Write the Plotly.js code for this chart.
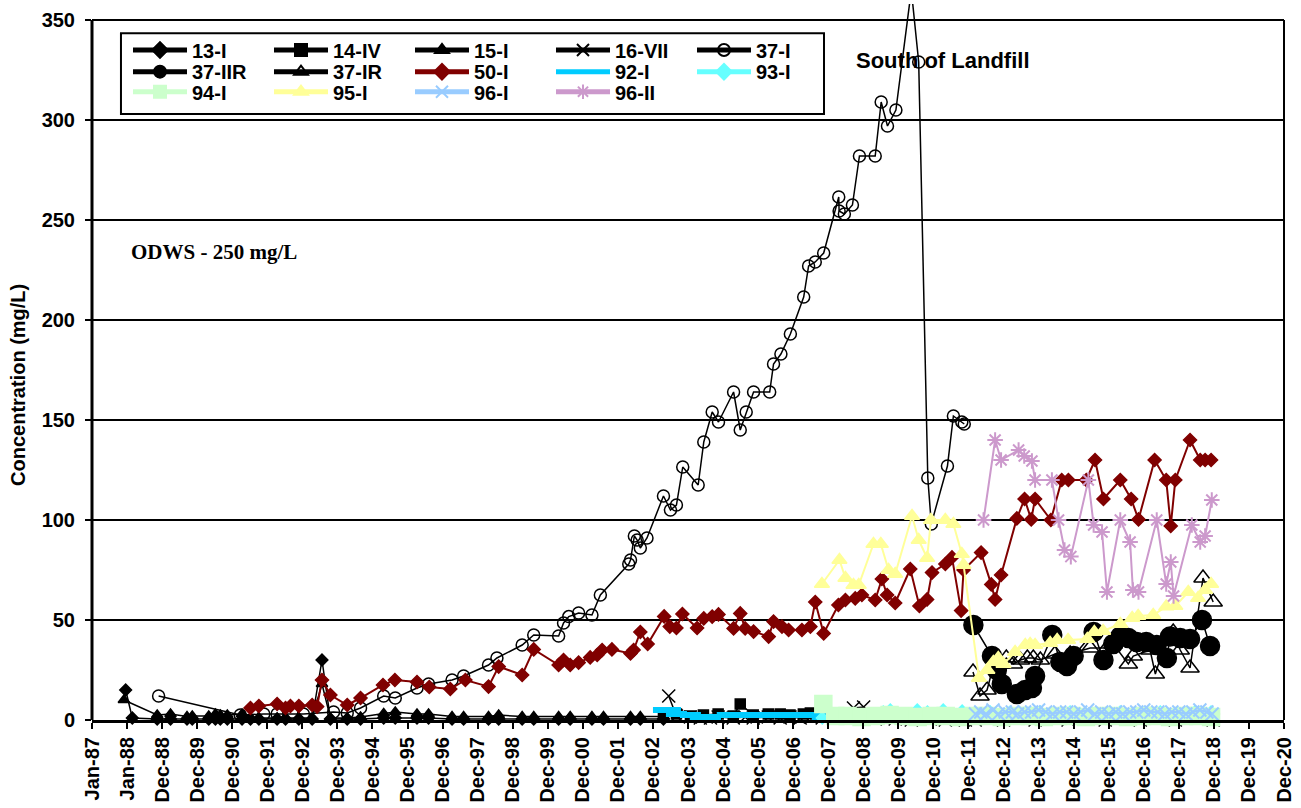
<!DOCTYPE html>
<html>
<head>
<meta charset="utf-8">
<script src="https://cdn.plot.ly/plotly-3.0.1.min.js"></script>
<style>html,body{margin:0;padding:0;background:#fff;}#chart{width:1301px;height:808px;}</style>
</head>
<body>
<div id="chart"></div>
<script>
// ---- x tick labels (Excel date axis, one tick every 365 days from Jan-87) ----
const xTickText = ['Jan-87','Jan-88','Dec-88','Dec-89','Dec-90','Dec-91','Dec-92','Dec-93','Dec-94','Dec-95',
  'Dec-96','Dec-97','Dec-98','Dec-99','Dec-00','Dec-01','Dec-02','Dec-03','Dec-04','Dec-05','Dec-06',
  'Dec-07','Dec-08','Dec-09','Dec-10','Dec-11','Dec-12','Dec-13','Dec-14','Dec-15','Dec-16','Dec-17',
  'Dec-18','Dec-19','Dec-20'];
const yTickVals = [0,50,100,150,200,250,300,350];

// ---- series (x = decimal year, y = concentration mg/L) ----
const s13I_x = [1987.96,1988.15,1988.86,1989.24,1989.71,1989.86,1990.33,1990.52,1990.66,1990.86,1991.28,1991.52,1991.76,1992.28,1992.52,1992.90,1993.28,1993.56,1993.80,1994.28,1994.66,1995.32,1995.65,1996.27,1996.60,1997.27,1997.60,1998.31,1998.60,1999.27,1999.60,2000.31,2000.64,2001.26,2001.59,2002.36,2002.64,2003.30];
const s13I_y = [15,1,0.5,0.5,0.5,0.5,0.5,0.5,0.5,0.5,0.5,0.5,0.5,0.5,0.5,0.5,0.5,30,0.5,0.5,0.5,1,1,1,1,0.5,0.5,0.5,0.5,0.5,0.5,0.5,0.5,0.5,0.5,0.5,0.5,0.5];

const s14IV_x = [2003.30,2003.67,2004.07,2004.44,2004.86,2005.29,2005.49,2005.86,2006.29,2006.63,2006.91,2007.29,2007.49,2007.63];
const s14IV_y = [2,3,2,2.5,3,2,8,2.5,3,3,2.5,3,3.5,3];

const s15I_x = [1987.91,1988.86,1989.24,1989.71,1989.86,1990.33,1990.52,1990.66,1990.86,1991.28,1991.52,1991.76,1992.28,1992.52,1992.90,1993.28,1993.56,1993.80,1994.28,1994.66,1995.32,1995.65,1996.27,1996.60,1997.27,1997.60,1998.31,1998.60,1999.27,1999.60,2000.31,2000.64,2001.26,2001.59,2002.36,2002.64,2003.30];
const s15I_y = [10,2.5,3,1.7,2,2,3,2.5,2.5,3,1,1,1,1,1,1,18,1,1,1.5,3.3,4,3,3,1.7,1.7,1.7,2.5,1.7,1.7,1.7,1.7,1.7,1.7,1.7,1.7,1.7];

const s16VII_x = [2003.45,2003.67,2004.07,2004.35,2004.64,2004.86,2005.29,2005.63,2005.86,2006.29,2006.63,2006.91,2007.20,2007.49,2007.83,2008.29,2008.72,2009.01,2009.34,2009.91,2010.37,2010.91,2011.34,2011.91,2012.19,2013.00,2013.90,2014.84,2015.90,2016.90,2017.90,2018.98];
const s16VII_y = [12,2,1.5,1,1,1.5,1,1.5,1,1.5,1,1.5,1,1.5,1,1,6,6.5,0.5,0.5,0,0.5,0,0,0,0,0,0,0,0,0,0];

const s37I_x = [1988.90,1991.23,1991.90,1992.28,1993.03,1993.89,1994.28,1994.66,1995.32,1995.65,1996.27,1996.60,1997.27,1997.60,1998.31,1998.55,1999.27,1999.60,2000.31,2000.45,2000.60,2000.88,2001.26,2001.50,2002.31,2002.36,2002.47,2002.55,2002.64,2002.83,2003.30,2003.50,2003.67,2003.85,2004.29,2004.45,2004.69,2004.87,2005.30,2005.49,2005.66,2005.87,2006.33,2006.44,2006.65,2006.92,2007.30,2007.44,2007.63,2007.87,2008.30,2008.31,2008.46,2008.69,2008.89,2009.34,2009.51,2009.69,2009.93,2010.37,2010.58,2010.84,2010.94,2011.40,2011.57,2011.81,2011.88];
const s37I_y = [12,2.5,3,3,3,4,3.5,6,12,11,16,18,20,22,27.5,31,37.5,42.5,42,48.5,51.7,53.5,52.5,62.5,78,80,92,90,86,91,112,105,107.5,126.5,117.5,139,154,149,164,145,154,164,164,178,183,193,211.5,227,229,233.5,261.5,254.5,253,257.5,282,282,309,297,305,365,329,121,98,127,152,149,148];

const s37IIR_x = [2012.14,2012.67,2012.81,2012.95,2013.38,2013.62,2013.81,2013.90,2014.39,2014.62,2014.81,2015.00,2015.57,2015.85,2016.13,2016.33,2016.56,2016.80,2017.07,2017.37,2017.66,2017.75,2018.04,2018.32,2018.66,2018.89];
const s37IIR_y = [47.5,32,25,18,13,15,16,22,42.5,29,27,32,44,30,38,41.7,41,39,39,37.5,31,41.7,41,40.5,50,37];

const s37IR_x = [2012.13,2012.33,2012.53,2012.71,2012.91,2013.08,2013.28,2013.48,2013.68,2013.85,2014.05,2014.47,2014.90,2015.47,2015.95,2016.13,2016.56,2016.70,2017.18,2017.33,2017.64,2017.84,2018.04,2018.32,2018.69,2018.98];
const s37IR_y = [24,12,15,27,28,31,28,30,31,31,30,33,33,36,36,38,28,32,35,23,40,44,35,26,71,59];

const s50I_x = [1991.52,1991.76,1992.28,1992.52,1992.66,1992.90,1993.28,1993.42,1993.56,1993.80,1994.28,1994.66,1995.30,1995.64,1996.27,1996.62,1997.22,1997.65,1998.31,1998.60,1999.27,1999.60,2000.31,2000.45,2000.64,2000.88,2001.21,2001.41,2001.55,2001.83,2002.36,2002.45,2002.64,2002.85,2003.32,2003.48,2003.67,2003.84,2004.26,2004.45,2004.69,2004.87,2005.30,2005.49,2005.63,2005.87,2006.30,2006.44,2006.68,2006.87,2007.25,2007.49,2007.63,2007.87,2008.29,2008.49,2008.77,2008.96,2009.34,2009.53,2009.68,2009.91,2010.34,2010.60,2010.82,2010.96,2011.34,2011.53,2011.79,2011.86,2012.36,2012.65,2012.76,2012.93,2013.38,2013.60,2013.79,2013.90,2014.35,2014.66,2014.85,2015.36,2015.61,2015.85,2016.33,2016.64,2016.85,2017.31,2017.64,2017.77,2017.90,2018.32,2018.61,2018.75,2018.92];
const s50I_y = [6,7,8,6,7,7,7.5,6.7,20,12.5,7.5,11,17.5,20,19,16.5,15.5,20,16.7,26.7,22.5,35.3,27.5,30,27.5,28.7,31.3,32.5,35,35.3,33.3,35,44,38,51.8,46.7,46,53,46,50.8,51.7,52.8,45.8,53.3,45.8,44.2,41.7,49.2,46.7,45,45,46.7,59,43.3,57.5,60,60.8,62.5,60,70.5,62.5,58.5,75.5,57,60.3,73.7,78,81.3,54.7,75,83.7,67.8,60.3,72.5,100.8,110.5,100.3,110.5,100,120,120,120,130,110.5,120,110.5,100.3,130,120,97,120,140,130,130,130];

const s92I_x = [2003.30,2003.50,2003.67,2004.07,2004.35,2004.64,2005.12,2005.49,2006.06,2006.63,2007.20,2007.63,2007.83];
const s92I_y = [5,5,3,2.5,1.5,1.5,2.5,2.5,2.5,2.5,2.5,2.5,1];

const s93I_x = [2007.83,2008.29,2008.72,2009.20,2009.57,2009.77,2010.20,2010.54,2010.83,2011.28,2011.82,2012.19,2012.62,2012.91,2013.19,2013.62,2014.05,2014.47,2014.90,2015.47,2015.90,2016.33,2016.90,2017.47,2018.04,2018.46,2018.92];
const s93I_y = [1,3,3,3,4,5,3,5,4,5,4.5,3,4,3,4,3,4,3,4,3,3,4,3,4,3,4,4];

const s94I_x = [2007.86,2008.20,2008.55,2008.95,2009.35,2009.75,2010.15,2010.55,2010.95,2011.35,2011.75,2012.15,2012.55,2012.95,2013.35,2013.75,2014.15,2014.55,2014.95,2015.35,2015.75,2016.15,2016.55,2016.95,2017.35,2017.75,2018.15,2018.55,2018.92];
const s94I_y = [8,2,2,1.5,2,2.5,2,1.5,2,2,1.5,2,2,1.5,2,2,1.5,2,2,1.5,2,2,1.5,2,2,1.5,2,2,1.5];

const s95I_x = [2007.82,2008.32,2008.49,2008.72,2008.87,2009.29,2009.50,2009.72,2009.91,2010.39,2010.58,2010.82,2010.93,2011.34,2011.57,2011.81,2011.86,2012.30,2012.54,2012.71,2012.85,2013.00,2013.33,2013.62,2013.76,2013.90,2014.33,2014.53,2014.84,2015.39,2015.59,2015.84,2016.33,2016.67,2016.84,2017.27,2017.64,2017.90,2018.27,2018.55,2018.75,2018.92];
const s95I_y = [68,80,71,67.5,67.5,88,88,75,73,102,90,81,100,100,98,83,77.5,21,25,29,31,28,34,37.5,38,37.5,38.5,40,40,40.5,44,44.5,48,51,52,52.5,56.7,57,64,61,65,68];

const s96I_x = [2012.20,2012.35,2012.50,2012.70,2012.85,2013.05,2013.25,2013.40,2013.60,2013.80,2014.00,2014.20,2014.40,2014.60,2014.80,2015.00,2015.20,2015.40,2015.60,2015.80,2016.00,2016.20,2016.40,2016.60,2016.80,2017.00,2017.20,2017.40,2017.60,2017.80,2018.00,2018.20,2018.40,2018.60,2018.80,2018.95];
const s96I_y = [3,4,3,5,3,4,4,3,4,4,5,4,3,4,4,3,4,5,3,4,3,4,3,4,4,5,4,4,3,4,4,3,4,5,4,3];

const s96II_x = [2012.43,2012.76,2012.93,2013.43,2013.59,2013.81,2013.90,2014.38,2014.57,2014.74,2014.92,2015.42,2015.57,2015.81,2015.95,2016.33,2016.61,2016.69,2016.85,2017.37,2017.64,2017.77,2017.85,2018.37,2018.61,2018.75,2018.94];
const s96II_y = [100,140,130,135,132,129.5,120,120,100,85,81.7,120,97.5,94,64,100,89,65,64,100,68,79,62,97.5,89,92,110];

// ---- build traces ----
function tr(name, x, y, color, lw, symbol, size, legend, extra) {
  const t = {
    type: 'scatter', mode: 'lines+markers', name: name, x: x, y: y,
    line: {color: color, width: lw},
    marker: {symbol: symbol, size: size, color: color, line: {color: color, width: 1.5}},
    legend: legend, cliponaxis: false, hoverinfo: 'x+y+name'
  };
  return Object.assign(t, extra || {});
}
const K = '#000000';
const traces = [
  tr('13-I', s13I_x, s13I_y, K, 1.5, 'diamond', 9, 'legend'),
  tr('14-IV', s14IV_x, s14IV_y, K, 1.5, 'square', 10, 'legend'),
  tr('15-I', s15I_x, s15I_y, K, 1.5, 'triangle-up', 10, 'legend'),
  tr('16-VII', s16VII_x, s16VII_y, K, 1.5, 'x-thin-open', 13, 'legend'),
  tr('37-I', s37I_x, s37I_y, K, 1.5, 'circle-open', 12, 'legend', {cliponaxis: true}),
  tr('37-IIR', s37IIR_x, s37IIR_y, K, 1.5, 'circle', 19, 'legend2'),
  tr('37-IR', s37IR_x, s37IR_y, K, 1.5, 'triangle-up-open', 16, 'legend2'),
  tr('50-I', s50I_x, s50I_y, '#800000', 2, 'diamond', 10, 'legend2'),
  tr('92-I', s92I_x, s92I_y, '#00CCFF', 4, 'line-ew-open', 15, 'legend2'),
  tr('93-I', s93I_x, s93I_y, '#66FFFF', 2, 'diamond', 9, 'legend2'),
  tr('94-I', s94I_x, s94I_y, '#CCFFCC', 2, 'square', 17, 'legend3'),
  tr('95-I', s95I_x, s95I_y, '#FFFF99', 2, 'triangle-up', 13, 'legend3'),
  tr('96-I', s96I_x, s96I_y, '#99CCFF', 2, 'x-thin-open', 13, 'legend3'),
  tr('96-II', s96II_x, s96II_y, '#CC99CC', 2, 'asterisk-open', 13, 'legend3')
];
traces[8].marker.line.width = 6;
traces[12].marker.line.width = 2;
traces[13].marker.line.width = 2;

// ---- layout ----
const xTickVals = xTickText.map((_, i) => 1987 + i);
const FONT = 'Liberation Sans, Arial, sans-serif';
const legFont = {family: FONT, size: 20, color: '#000', weight: 'bold'};
function leg(y) {
  return {orientation: 'h', x: 0.0302, y: y, xanchor: 'left', yanchor: 'middle',
    bgcolor: 'rgba(0,0,0,0)', borderwidth: 0, font: legFont, itemwidth: 54,
    entrywidth: 72, entrywidthmode: 'pixels', itemsizing: 'constant', itemclick: false, itemdoubleclick: false};
}
const layout = {
  width: 1301, height: 808,
  margin: {l: 92, r: 17, t: 4, b: 88, autoexpand: false},
  paper_bgcolor: '#fff', plot_bgcolor: '#fff',
  font: {family: FONT, color: '#000'},
  showlegend: true,
  legend: leg(0.9358), legend2: leg(0.9055), legend3: leg(0.8775),
  xaxis: {range: [1987, 2021], tickmode: 'array', tickvals: xTickVals, ticktext: xTickText, tickangle: -90,
    tickfont: {family: FONT, size: 20, weight: 'bold', color: '#000'},
    ticks: 'outside', ticklen: 6, tickwidth: 2, tickcolor: '#000',
    showline: true, linewidth: 3, linecolor: '#000', showgrid: false, zeroline: false, fixedrange: true},
  yaxis: {range: [0, 358], tickmode: 'array', tickvals: yTickVals,
    tickfont: {family: FONT, size: 20, weight: 'bold', color: '#000'},
    ticks: 'outside', ticklen: 6, tickwidth: 2, tickcolor: '#000', ticklabelstandoff: 6,
    showline: false, showgrid: true, gridcolor: '#000', gridwidth: 2, zeroline: false, fixedrange: true},
  shapes: [
    {type: 'line', xref: 'paper', yref: 'y', x0: 0, x1: 0, y0: 0, y1: 350, line: {color: '#000', width: 3}},
    {type: 'line', xref: 'paper', yref: 'y', x0: 1, x1: 1, y0: 0, y1: 350, line: {color: '#000', width: 2}},
    {type: 'rect', xref: 'paper', yref: 'paper', x0: 0.0243, x1: 0.6141, y0: 0.8464, y1: 0.9591,
     line: {color: '#000', width: 2}, fillcolor: 'rgba(0,0,0,0)'}
  ],
  annotations: [
    {xref: 'paper', yref: 'paper', x: -0.0621, y: 0.4679, xanchor: 'center', yanchor: 'middle', showarrow: false,
     textangle: -90, text: 'Concentration (mg/L)', font: {family: FONT, size: 20, weight: 'bold', color: '#000'}},
    {xref: 'paper', yref: 'paper', x: 0.6393, y: 0.9204, xanchor: 'left', yanchor: 'middle', showarrow: false,
     text: 'South of Landfill', font: {family: FONT, size: 22, weight: 'bold', color: '#000'}},
    {xref: 'paper', yref: 'paper', x: 0.031, y: 0.6536, xanchor: 'left', yanchor: 'middle', showarrow: false,
     text: 'ODWS - 250 mg/L', font: {family: 'Liberation Serif, Times New Roman, serif', size: 21, weight: 'bold', color: '#000'}}
  ]
};
Plotly.newPlot('chart', traces, layout, {displayModeBar: false, responsive: false});
</script>
</body>
</html>
